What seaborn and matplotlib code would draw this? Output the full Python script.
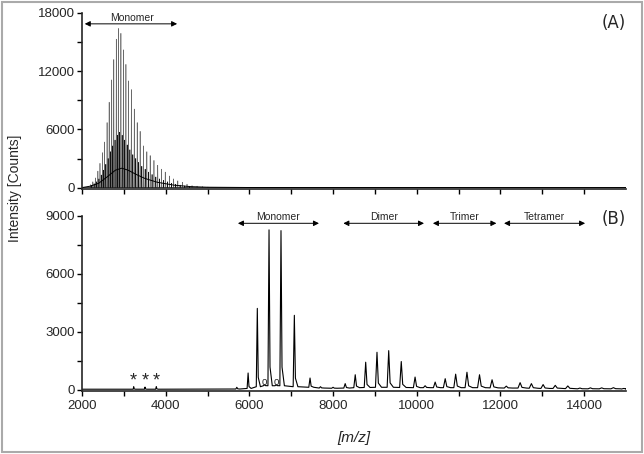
import matplotlib
matplotlib.use("Agg")
import matplotlib.pyplot as plt
import matplotlib.patches as patches
import seaborn as sns
import pandas as pd
import numpy as np

# ---- panel A: monomer region, two interleaved peak series + broad hump ----
peaks_a_mz = [2200, 2260, 2320, 2380, 2430, 2490, 2540, 2600, 2650, 2710, 2760, 2820,
              2870, 2930, 2990, 3050, 3110, 3180, 3250, 3320, 3390, 3470, 3550, 3630,
              3720, 3810, 3900, 3990, 4090, 4190, 4290, 4400, 4510, 4630, 4750, 4880, 5010]
peaks_a_int = [300, 600, 1000, 1700, 2500, 3600, 4700, 6700, 8800, 11100, 13200, 15300,
               16400, 15900, 14200, 12700, 11000, 10100, 8100, 6700, 5800, 4300, 3700, 3300,
               2800, 2300, 1900, 1600, 1200, 900, 700, 550, 350, 200, 150, 100, 60]
peaks_a2_mz = [2230, 2290, 2350, 2405, 2460, 2515, 2570, 2625, 2680, 2735, 2790, 2845,
               2900, 2960, 3020, 3080, 3145, 3215, 3285, 3355, 3430, 3510, 3590, 3675,
               3765, 3855, 3945, 4040, 4140, 4240, 4345, 4455, 4570]
peaks_a2_int = [250, 400, 600, 900, 1300, 1800, 2400, 3000, 3700, 4300, 4900, 5400,
                5700, 5400, 4900, 4400, 3900, 3400, 3000, 2600, 2200, 1900, 1600, 1350,
                1100, 900, 750, 600, 450, 350, 260, 180, 120]
hump_a_mz = [2000, 2200, 2400, 2600, 2800, 2950, 3100, 3300, 3500, 3800, 4200, 4600, 5000, 6000, 15000]
hump_a_int = [0, 150, 450, 1100, 1800, 2000, 1800, 1350, 950, 550, 250, 100, 40, 10, 0]

# ---- panel B: full range, monomer .. tetramer ----
peaks_b_mz = [3236, 3506, 3776, 5700, 5970, 6190, 6360, 6470, 6640, 6756, 7075, 7450,
              7700, 8000, 8290, 8530, 8780, 9050, 9330, 9630, 9960, 10200, 10440, 10680,
              10930, 11200, 11500, 11800, 12140, 12470, 12740, 13020, 13310, 13610, 13900,
              14150, 14420, 14700, 14950]
peaks_b_int = [150, 130, 160, 120, 860, 4210, 250, 8280, 250, 8240, 3850, 600,
               150, 120, 310, 770, 1420, 1935, 2020, 1455, 650, 200, 390, 565,
               800, 900, 770, 510, 180, 360, 310, 260, 220, 190, 80,
               90, 90, 100, 60]
base_b_int = [20, 20, 20, 30, 60, 150, 200, 200, 200, 200, 150, 120,
              80, 70, 80, 100, 110, 120, 120, 110, 100, 100, 100, 100,
              100, 100, 100, 90, 80, 80, 70, 60, 60, 50, 40,
              40, 40, 40, 30]
star_mz = [3236, 3506, 3776]
circle_mz = [6360, 6640]

regions_b = [("Monomer", 5660, 7730), ("Dimer", 8180, 10240),
             ("Trimer", 10320, 11970), ("Tetramer", 12020, 14090)]


def stick_trace(mz, h, x0, x1, w=6):
    xs, ys = [x0], [0]
    for m, v in zip(mz, h):
        xs += [m - w, m, m + w]
        ys += [0, v, 0]
    xs.append(x1)
    ys.append(0)
    return pd.DataFrame({"mz": xs, "I": ys})


def tailed_trace(mz, h, base, x0, x1):
    xs, ys = [x0], [base[0]]
    for m, v, b in zip(mz, h, base):
        wl, wr = m * 0.004, m * 0.012
        xs += [m - wl, m, m + 0.3 * wr, m + wr]
        ys += [b, v, b + 0.12 * (v - b), b]
    xs.append(x1)
    ys.append(base[-1])
    return pd.DataFrame({"mz": xs, "I": ys})


sns.set_style("ticks")
plt.rcParams["font.family"] = ["Liberation Sans", "DejaVu Sans"]

fig = plt.figure(figsize=(6.44, 4.54), dpi=100)
ax_a = fig.add_axes([0.1273, 0.5837, 0.8447, 0.3877])
ax_b = fig.add_axes([0.1273, 0.1388, 0.8447, 0.3855])

# panel A: tall series drawn lighter, short series darker
df_a1 = stick_trace(peaks_a_mz, peaks_a_int, 2000, 15000)
sns.lineplot(data=df_a1, x="mz", y="I", sort=False, estimator=None,
             color="#6a6a6a", lw=0.45, ax=ax_a)
df_a2 = stick_trace(peaks_a2_mz, peaks_a2_int, 2000, 15000)
sns.lineplot(data=df_a2, x="mz", y="I", sort=False, estimator=None,
             color="#111111", lw=0.45, ax=ax_a)
df_hump = pd.DataFrame({"mz": hump_a_mz, "I": hump_a_int})
sns.lineplot(data=df_hump, x="mz", y="I", sort=False, estimator=None,
             color="black", lw=0.7, ax=ax_a)

# panel B
df_b = tailed_trace(peaks_b_mz, peaks_b_int, base_b_int, 2000, 15000)
sns.lineplot(data=df_b, x="mz", y="I", sort=False, estimator=None,
             color="black", lw=0.8, ax=ax_b)

for ax, ymax, step in [(ax_a, 18000, 6000), (ax_b, 9000, 3000)]:
    ax.set_xlim(2000, 15000)
    ax.set_ylim(-ymax * 0.008, ymax)
    ax.set_xticks(np.arange(2000, 15001, 2000))
    ax.set_xticks(np.arange(3000, 15000, 2000), minor=True)
    ax.set_yticks(np.arange(0, ymax + 1, step))
    ax.set_yticks(np.arange(step / 2, ymax, step), minor=True)
    ax.tick_params(which="both", direction="out", length=3.5, width=1.0,
                   labelsize=9.5, pad=1.5, color="black")
    for side in ("top", "right"):
        ax.spines[side].set_visible(False)
    for side in ("left", "bottom"):
        ax.spines[side].set_linewidth(1.2)
    ax.set_xlabel("")
    ax.set_ylabel("")

ax_a.tick_params(axis="x", labelbottom=False)
ax_b.tick_params(axis="x", pad=3)

# annotations: panel A
ax_a.annotate("", xy=(4340, 16880), xytext=(2000, 16880),
              arrowprops=dict(arrowstyle="<|-|>", lw=0.7, color="black", mutation_scale=8))
ax_a.text(3190, 17000, "Monomer", fontsize=7.5, ha="center", va="bottom")
ax_a.text(1.0, 0.945, "(A)", transform=ax_a.transAxes, fontsize=12,
          ha="right", va="center", family="DejaVu Sans")

# annotations: panel B
for name, x0, x1 in regions_b:
    ax_b.annotate("", xy=(x1, 8620), xytext=(x0, 8620),
                  arrowprops=dict(arrowstyle="<|-|>", lw=0.7, color="black", mutation_scale=8))
    ax_b.text((x0 + x1) / 2, 8680, name, fontsize=7.5, ha="center", va="bottom")
ax_b.text(1.0, 0.985, "(B)", transform=ax_b.transAxes, fontsize=12,
          ha="right", va="center", family="DejaVu Sans")
for m in star_mz:
    ax_b.text(m, 0, "*", fontsize=13, ha="center", va="bottom")
for m in circle_mz:
    ax_b.text(m, 400, "o", fontsize=7, ha="center", va="center")

fig.text(0.024, 0.586, "Intensity [Counts]", rotation=90, fontsize=10,
         ha="center", va="center")
fig.text(0.549, 0.035, "[m/z]", fontsize=11, style="italic", ha="center", va="center")

fig.patches.append(patches.Rectangle((0.003, 0.004), 0.994, 0.992, transform=fig.transFigure,
                                     fill=False, edgecolor="#aaaaaa", lw=1.5))

fig.savefig("out.png", dpi=100)
